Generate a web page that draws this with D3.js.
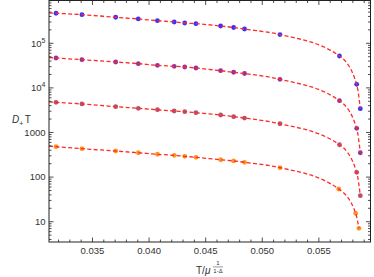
<!DOCTYPE html>
<html lang="en">
<head>
<meta charset="utf-8">
<title>D+ T vs T</title>
<script src="https://cdnjs.cloudflare.com/ajax/libs/d3/7.8.5/d3.min.js"></script>
<style>
  body { margin: 0; background: #fff; }
  svg { display: block; font-family: "Liberation Sans", Arial, sans-serif; }
  .fit { fill: none; stroke: #ff2a2a; stroke-width: 1.3px; stroke-dasharray: 4 2.4; }
  .frame { fill: none; stroke: #222; stroke-width: 1px; }
  .tick { stroke: #222; stroke-width: 0.8px; }
  .lbl { fill: #333; font-size: 9.5px; }
</style>
</head>
<body>
<div id="chart"></div>
<script>
// temperatures (shared by the first three sets)
var temps = [0.03178, 0.03407, 0.03705, 0.03905, 0.04074, 0.04222, 0.04315, 0.04414,
             0.04632, 0.04747, 0.04843, 0.05156, 0.05682, 0.05834, 0.05866];
var tempsOrange = [0.03178, 0.03407, 0.03705, 0.03905, 0.04074, 0.04222, 0.04315, 0.04414,
             0.04632, 0.04747, 0.04843, 0.05156, 0.05675, 0.05825, 0.05854];

var blueVals   = [4.71e5, 4.38e5, 3.83e5, 3.51e5, 3.21e5, 3.0e5, 2.85e5, 2.75e5,
                  2.44e5, 2.26e5, 2.09e5, 1.57e5, 5.19e4, 1.20e4, 3.42e3];
var purpleVals = [4.68e4, 4.29e4, 3.81e4, 3.49e4, 3.21e4, 3.05e4, 2.94e4, 2.79e4,
                  2.43e4, 2.24e4, 2.10e4, 1.56e4, 5.16e3, 1.24e3, 352];
var brownVals  = [4750, 4360, 3790, 3490, 3240, 3030, 2930, 2780,
                  2470, 2260, 2110, 1570, 532, 128, 38.3];
var orangeVals = [480, 433, 385, 352, 325, 308, 293, 278,
                  245, 230, 215, 163, 54.1, 15.4, 7.1];

var seriesColors = ["#1c1cff", "#8a1c8e", "#b0405a", "#ff8a0a"];

var xTicks = [0.035, 0.040, 0.045, 0.050, 0.055];
var xTickLabels = ["0.035", "0.040", "0.045", "0.050", "0.055"];
var yTicks = [10, 100, 1000, 1e4, 1e5];

var series = [
  { t: temps, v: blueVals, color: seriesColors[0] },
  { t: temps, v: purpleVals, color: seriesColors[1] },
  { t: temps, v: brownVals, color: seriesColors[2] },
  { t: tempsOrange, v: orangeVals, color: seriesColors[3] }
];

function drawChart() {
  var width = 374, height = 277;
  var left = 49, right = 370.5, top = 0.5, bottom = 242;

  var x = d3.scaleLinear().domain([0.03116, 0.05956]).range([left, right]);
  var y = d3.scaleLog().domain([3.51, 9.1e5]).range([bottom, top]);

  var svg = d3.select("#chart").append("svg")
    .attr("width", width)
    .attr("height", height);

  // dashed fit curves, extended to the left frame edge in log space
  var line = d3.line()
    .curve(d3.curveMonotoneX)
    .x(function (d) { return x(d[0]); })
    .y(function (d) { return y(d[1]); });

  svg.append("defs").append("clipPath").attr("id", "clip")
    .append("rect").attr("x", left).attr("y", top)
    .attr("width", right - left).attr("height", bottom - top);

  var pts = svg.append("g");
  var fits = svg.append("g").attr("clip-path", "url(#clip)");

  series.forEach(function (s) {
    var d = s.t.map(function (t, i) { return [t, s.v[i]]; });
    var slope = (Math.log(d[1][1]) - Math.log(d[0][1])) / (d[1][0] - d[0][0]);
    var x0 = x.domain()[0];
    var start = [x0, Math.exp(Math.log(d[0][1]) + slope * (x0 - d[0][0]))];
    fits.append("path")
      .datum([start].concat(d))
      .attr("class", "fit")
      .attr("d", line);

    pts.selectAll(null)
      .data(d)
      .enter().append("circle")
      .attr("cx", function (p) { return x(p[0]); })
      .attr("cy", function (p) { return y(p[1]); })
      .attr("r", 2.4)
      .attr("fill", s.color)
      .attr("fill-opacity", 0.9);
  });

  // frame
  svg.append("rect").attr("class", "frame")
    .attr("x", left).attr("y", top)
    .attr("width", right - left).attr("height", bottom - top);

  var ticks = svg.append("g");

  // x ticks, major + minor on bottom and top
  d3.range(32, 60).forEach(function (k) {
    var t = k / 1000;
    var major = k % 5 === 0;
    var len = major ? 4.5 : 2.5;
    var px = x(t);
    ticks.append("line").attr("class", "tick")
      .attr("x1", px).attr("x2", px).attr("y1", bottom).attr("y2", bottom - len);
    ticks.append("line").attr("class", "tick")
      .attr("x1", px).attr("x2", px).attr("y1", top).attr("y2", top + len);
  });

  // y ticks, log decades + 2..9 minors on left and right
  for (var e = 0; e <= 5; e++) {
    for (var m = 1; m <= 9; m++) {
      var v = m * Math.pow(10, e);
      if (v < y.domain()[0] || v > y.domain()[1]) continue;
      var len = m === 1 ? 4.5 : 2.5;
      var py = y(v);
      ticks.append("line").attr("class", "tick")
        .attr("x1", left).attr("x2", left + len).attr("y1", py).attr("y2", py);
      ticks.append("line").attr("class", "tick")
        .attr("x1", right).attr("x2", right - len).attr("y1", py).attr("y2", py);
    }
  }

  // x tick labels
  svg.append("g").selectAll("text")
    .data(xTicks)
    .enter().append("text")
    .attr("class", "lbl")
    .attr("x", function (d) { return x(d); })
    .attr("y", 254)
    .attr("text-anchor", "middle")
    .text(function (d, i) { return xTickLabels[i]; });

  // y tick labels
  var yl = svg.append("g").selectAll("text")
    .data(yTicks)
    .enter().append("text")
    .attr("class", "lbl")
    .attr("x", 45.5)
    .attr("y", function (d) { return y(d) + 3.3; })
    .attr("text-anchor", "end");

  yl.each(function (d) {
    var t = d3.select(this);
    if (d >= 1e4) {
      t.append("tspan").text("10");
      t.append("tspan").attr("dy", -4).attr("font-size", "7px").text(Math.round(Math.log10(d)));
    } else {
      t.text(d);
    }
  });

  // axis labels
  var ylab = svg.append("text").attr("class", "lbl")
    .attr("x", 12).attr("y", 123).style("font-size", "10px");
  ylab.append("tspan").attr("font-style", "italic").text("D");
  ylab.append("tspan").attr("dy", 2.5).attr("font-size", "7px").text("+");
  ylab.append("tspan").attr("dy", -2.5).attr("dx", 1.5).text("T");

  // T/μ^(1/(1-Δ)) in one text element, exponent as a stacked fraction
  var xlab = svg.append("text").attr("class", "lbl").style("font-size", "10px");
  xlab.append("tspan").attr("x", 196).attr("y", 274).text("T/");
  xlab.append("tspan").attr("font-style", "italic").text("\u03bc");
  xlab.append("tspan").attr("x", 218).attr("y", 265.3).attr("text-anchor", "middle")
    .attr("font-size", "6px").text("1");
  xlab.append("tspan").attr("x", 218).attr("y", 272.6).attr("text-anchor", "middle")
    .attr("font-size", "6px").text("1-\u0394");
  svg.append("line").attr("x1", 213).attr("x2", 223)
    .attr("y1", 266.9).attr("y2", 266.9).attr("stroke", "#333").attr("stroke-width", 0.5);
}
drawChart();
</script>
</body>
</html>
